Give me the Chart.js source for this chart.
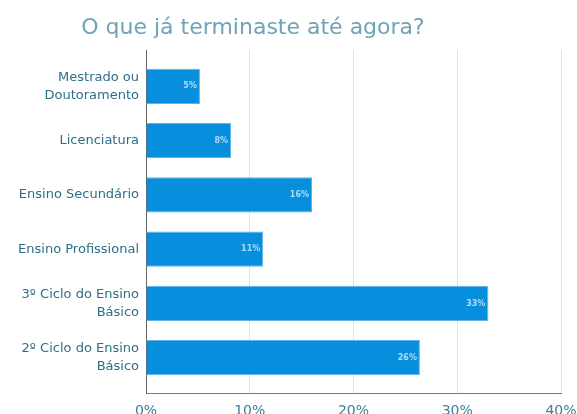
<!DOCTYPE html>
<html>
<head>
<meta charset="utf-8">
<script src="https://cdn.jsdelivr.net/npm/chart.js@4/dist/chart.umd.min.js"></script>
<style>
html,body{margin:0;padding:0;background:#fff;}
#wrap{width:577px;height:414px;position:relative;}
</style>
</head>
<body>
<div id="wrap"><canvas id="c"></canvas></div>
<script>
const titleText = "O que já terminaste até agora?";
const categories = [
  ["Mestrado ou", "Doutoramento"],
  "Licenciatura",
  "Ensino Secundário",
  "Ensino Profissional",
  ["3º Ciclo do Ensino", "Básico"],
  ["2º Ciclo do Ensino", "Básico"]
];
const values = [5.2, 8.2, 16.0, 11.3, 33.0, 26.4];
const xTicks = [0, 10, 20, 30, 40];

const points = values.map((v, i) => ({ x: v, y: i }));

const titlePlugin = {
  id: 'titleText',
  afterDraw(chart) {
    const ctx = chart.ctx;
    ctx.save();
    ctx.font = '22px "DejaVu Sans", sans-serif';
    ctx.fillStyle = '#6fa3b5';
    ctx.textAlign = 'center';
    ctx.textBaseline = 'alphabetic';
    ctx.fillText(titleText, 253, 34);
    ctx.restore();
  }
};

const barLabels = {
  id: 'barLabels',
  afterDatasetsDraw(chart) {
    const ctx = chart.ctx;
    const meta = chart.getDatasetMeta(0);
    ctx.save();
    ctx.font = 'bold 8px "DejaVu Sans", sans-serif';
    ctx.fillStyle = 'rgba(255,255,255,0.68)';
    ctx.textAlign = 'right';
    ctx.textBaseline = 'middle';
    meta.data.forEach((bar, i) => {
      ctx.fillText(Math.round(values[i]) + '%', bar.x - 3, bar.y);
    });
    ctx.restore();
  }
};

new Chart(document.getElementById('c'), {
  type: 'bar',
  data: {
    datasets: [{
      data: points,
      backgroundColor: '#078fde',
      borderColor: '#5fb3e8',
      borderWidth: 1,
      borderSkipped: 'start',
      categoryPercentage: 1,
      barPercentage: 0.65
    }]
  },
  options: {
    indexAxis: 'y',
    responsive: true,
    maintainAspectRatio: false,
    animation: false,
    layout: { padding: { left: 0, right: 16, top: 50, bottom: 0 } },
    plugins: {
      legend: { display: false },
      tooltip: { enabled: false },
      title: { display: false }
    },
    scales: {
      x: {
        type: 'linear',
        min: 0,
        max: 40,
        afterBuildTicks(scale) { scale.ticks = xTicks.map(v => ({ value: v })); },
        afterFit(scale) { scale.height = 21; scale.paddingLeft = 0; scale.paddingRight = 0; },
        ticks: {
          callback: v => v + '%',
          color: '#3b7f9b',
          font: { family: '"DejaVu Sans", sans-serif', size: 14 },
          padding: 10,
          maxRotation: 0
        },
        grid: { color: '#e3e3e3', lineWidth: 1, drawTicks: false },
        border: { display: true, color: '#777', width: 1 }
      },
      y: {
        type: 'linear',
        reverse: true,
        offset: false,
        grace: 0,
        min: -0.67,
        max: 5.65,
        afterBuildTicks(scale) { scale.ticks = categories.map((c, i) => ({ value: i })); },
        afterFit(scale) { scale.width = 146; scale.paddingTop = 0; scale.paddingBottom = 0; },
        ticks: {
          autoSkip: false,
          callback: (v) => categories[v],
          color: '#2f6e88',
          font: { family: '"DejaVu Sans", sans-serif', size: 13, lineHeight: 1.35 },
          padding: 7
        },
        grid: { display: false, drawTicks: false },
        border: { display: true, color: '#666', width: 1 }
      }
    }
  },
  plugins: [titlePlugin, barLabels]
});
</script>
</body>
</html>
